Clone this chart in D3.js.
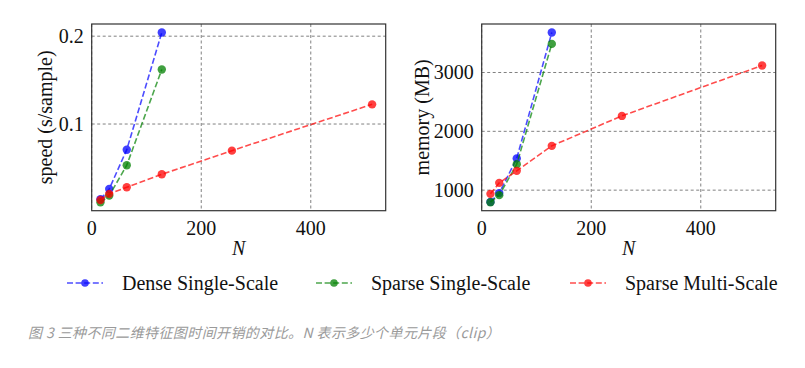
<!DOCTYPE html>
<html>
<head>
<meta charset="utf-8">
<script src="https://cdn.jsdelivr.net/npm/d3@7"></script>
<style>
  body { margin: 0; background: #fff; }
  svg { display: block; }
</style>
</head>
<body>
<div id="chart"></div>
<script>
// data
const nSingle = [16, 32, 64, 128];
const nMulti = [16, 32, 64, 128, 256, 512];

const speedDense = [0.0144, 0.0261, 0.0708, 0.2042];
const speedSparse = [0.0110, 0.0185, 0.0531, 0.1621];
const speedMulti = [0.0136, 0.0205, 0.0280, 0.0428, 0.0697, 0.1224];

const memDense = [800, 950, 1540, 3680];
const memSparse = [795, 915, 1440, 3486];
const memMulti = [937, 1124, 1328, 1753, 2262, 3119];

const seriesNames = ["Dense Single-Scale", "Sparse Single-Scale", "Sparse Multi-Scale"];
const seriesColors = ["#0000ff", "#008000", "#ff0000"];

const xTicks = [0, 200, 400];
const speedTicks = [0.1, 0.2];
const memTicks = [1000, 2000, 3000];

const captionText = "图 3 三种不同二维特征图时间开销的对比。N 表示多少个单元片段（clip）";

const width = 805, height = 368;
const serif = "'Liberation Serif', 'Times New Roman', serif";

const svg = d3.select("#chart").append("svg")
    .attr("width", width)
    .attr("height", height);

function drawPanel(opts) {
    const {left, right, top, bottom, ys, yTicks, yFmt, yLabel, yLabelX} = opts;

    const allY = [].concat(...ys);
    const yMin = d3.min(allY), yMax = d3.max(allY);
    const pad = (yMax - yMin) * 0.05;

    const x = d3.scaleLinear()
        .domain([0, 512 + (512 - 16) * 0.05])
        .range([left, right]);
    const y = d3.scaleLinear()
        .domain([yMin - pad, yMax + pad])
        .range([bottom, top]);

    const g = svg.append("g");

    // grid
    g.selectAll(".gx").data(xTicks).enter().append("line")
        .attr("x1", d => x(d)).attr("x2", d => x(d))
        .attr("y1", top).attr("y2", bottom)
        .attr("stroke", "#808080").attr("stroke-width", 1)
        .attr("stroke-dasharray", "3,2.5");
    g.selectAll(".gy").data(yTicks).enter().append("line")
        .attr("x1", left).attr("x2", right)
        .attr("y1", d => y(d)).attr("y2", d => y(d))
        .attr("stroke", "#808080").attr("stroke-width", 1)
        .attr("stroke-dasharray", "3,2.5");

    // series
    const line = d3.line().x(d => x(d[0])).y(d => y(d[1]));
    ys.forEach((vals, i) => {
        const ns = vals.length === nMulti.length ? nMulti : nSingle;
        const pts = ns.map((n, j) => [n, vals[j]]);
        g.append("path")
            .datum(pts)
            .attr("fill", "none")
            .attr("stroke", seriesColors[i])
            .attr("stroke-opacity", 0.7)
            .attr("stroke-width", 1.6)
            .attr("stroke-dasharray", "6,2.6")
            .attr("d", line);
        g.selectAll(null).data(pts).enter().append("circle")
            .attr("cx", d => x(d[0]))
            .attr("cy", d => y(d[1]))
            .attr("r", 4.2)
            .attr("fill", seriesColors[i])
            .attr("fill-opacity", 0.75);
    });

    // frame
    g.append("rect")
        .attr("x", left).attr("y", top)
        .attr("width", right - left).attr("height", bottom - top)
        .attr("fill", "none")
        .attr("stroke", "#333").attr("stroke-width", 1.2);

    // tick labels
    g.selectAll(".tx").data(xTicks).enter().append("text")
        .attr("x", d => x(d)).attr("y", bottom + 24)
        .attr("text-anchor", "middle")
        .style("font-family", serif).style("font-size", "20px")
        .attr("fill", "#111")
        .text(d => d);
    g.selectAll(".ty").data(yTicks).enter().append("text")
        .attr("x", left - 8).attr("y", d => y(d) + 7)
        .attr("text-anchor", "end")
        .style("font-family", serif).style("font-size", "20px")
        .attr("fill", "#111")
        .text(yFmt);

    // axis labels
    g.append("text")
        .attr("x", (left + right) / 2).attr("y", bottom + 44)
        .attr("text-anchor", "middle")
        .style("font-family", serif).style("font-size", "20px")
        .style("font-style", "italic")
        .attr("fill", "#111")
        .text("N");
    g.append("text")
        .attr("transform", `translate(${yLabelX},${(top + bottom) / 2}) rotate(-90)`)
        .attr("text-anchor", "middle")
        .attr("dy", "0.35em")
        .style("font-family", serif).style("font-size", "20px")
        .attr("fill", "#111")
        .text(yLabel);
}

drawPanel({
    left: 91.7, right: 385.7, top: 24, bottom: 210.7,
    ys: [speedDense, speedSparse, speedMulti],
    yTicks: speedTicks, yFmt: d => d.toFixed(1),
    yLabel: "speed (s/sample)", yLabelX: 45
});

drawPanel({
    left: 481.7, right: 775.7, top: 24, bottom: 210.7,
    ys: [memDense, memSparse, memMulti],
    yTicks: memTicks, yFmt: d => d,
    yLabel: "memory (MB)", yLabelX: 422
});

// legend
const legendX = [67, 316, 570];
const legend = svg.append("g");
seriesNames.forEach((name, i) => {
    const lg = legend.append("g").attr("transform", `translate(${legendX[i]},283)`);
    lg.append("line")
        .attr("x1", 0).attr("x2", 36)
        .attr("stroke", seriesColors[i])
        .attr("stroke-opacity", 0.7)
        .attr("stroke-width", 1.6)
        .attr("stroke-dasharray", "6,2.6");
    lg.append("circle")
        .attr("cx", 18).attr("r", 3.8)
        .attr("fill", seriesColors[i])
        .attr("fill-opacity", 0.75);
    lg.append("text")
        .attr("x", 55).attr("y", 6.5)
        .style("font-family", serif).style("font-size", "20px")
        .attr("fill", "#111")
        .text(name);
});

// caption
svg.append("text")
    .attr("x", 28).attr("y", 338)
    .style("font-family", "'Noto Sans CJK SC', sans-serif")
    .style("font-size", "14px")
    .style("font-style", "italic")
    .style("letter-spacing", "0.4px")
    .attr("fill", "#9a9a9a")
    .text(captionText);
</script>
</body>
</html>
